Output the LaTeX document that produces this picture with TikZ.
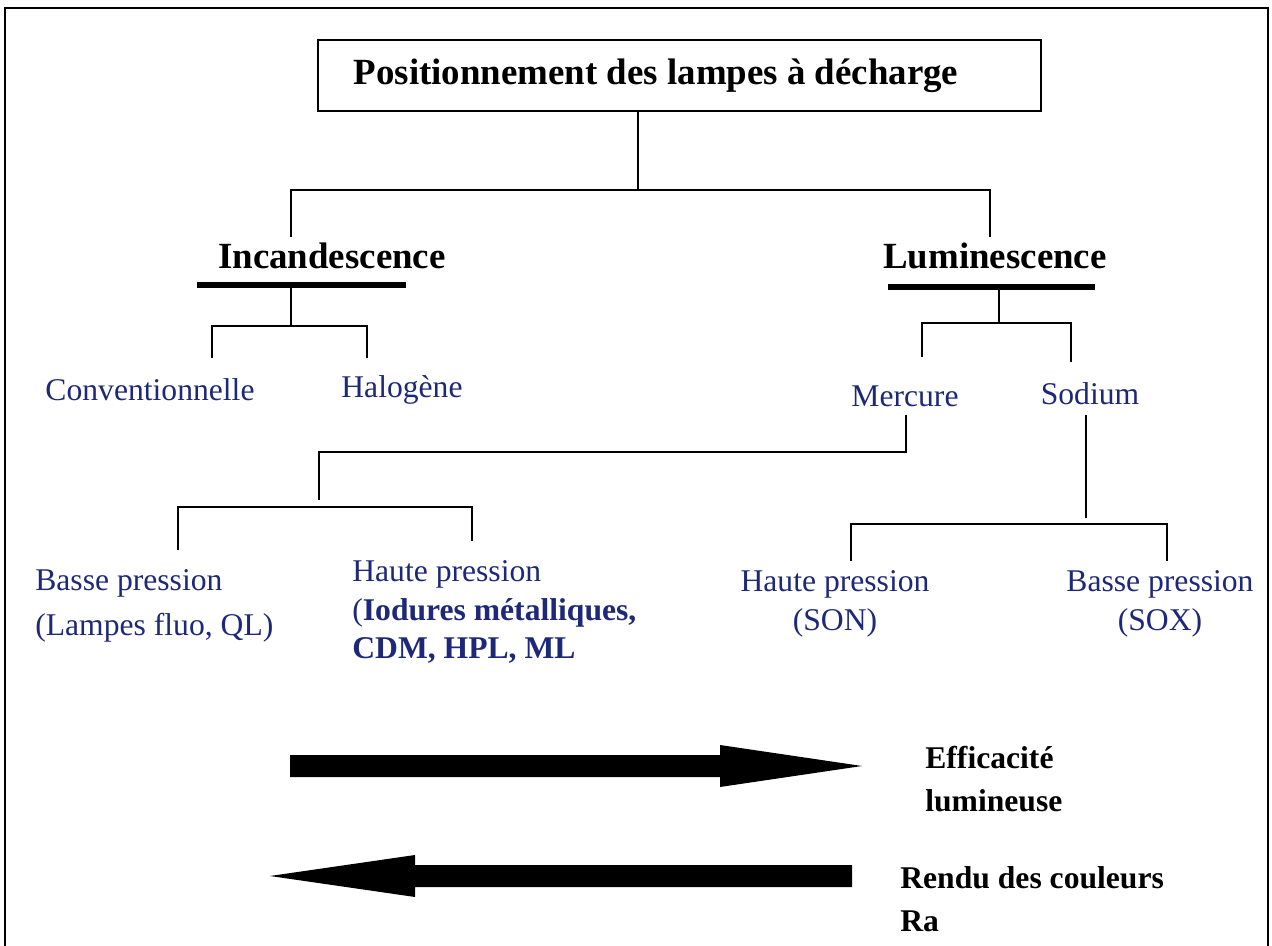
\documentclass[tikz,border=0pt]{standalone}
\usepackage{fontspec}
\setmainfont{Liberation Serif}
\definecolor{lampblue}{RGB}{30,40,120}
\tikzset{
  lien/.style={line width=1.1pt},
  barre/.style={line width=3.4pt},
  titre/.style={font=\fontsize{21}{25}\selectfont\bfseries, inner sep=0pt},
  famille/.style={font=\fontsize{21}{25}\selectfont\bfseries, inner sep=0pt},
  sorte/.style={font=\fontsize{18}{22}\selectfont, text=lampblue, inner sep=0pt},
  legende/.style={font=\fontsize{18}{24.4}\selectfont\bfseries, inner sep=0pt, align=left},
  fleche/.style={fill=black},
}
\begin{document}
\begin{tikzpicture}[x=0.02cm, y=-0.02cm]
  \useasboundingbox (0,0) rectangle (1272,946);
  % cadre
  \draw[lien] (5,946) -- (5,8) -- (1268,8) -- (1268,946);

  % titre
  \node[draw, lien, minimum width=14.46cm, minimum height=1.42cm] (titlebox) at (679.5,75.5) {};
  \node[titre] (title) at (656,76) {Positionnement des lampes à décharge};

  % familles
  \node[famille] (incand) at (332,256) {Incandescence};
  \node[famille] (lumin) at (995,256) {Luminescence};
  \draw[barre] (197,285) -- (406,285);
  \draw[barre] (888,287) -- (1095,287);

  % sortes
  \node[sorte] (conv) at (150,390) {Conventionnelle};
  \node[sorte] (halo) at (402,390) {Halogène};
  \node[sorte] (merc) at (905,396) {Mercure};
  \node[sorte] (sod) at (1090,394) {Sodium};
  \node[sorte, align=left, anchor=west, font=\fontsize{18}{26}\selectfont] (bpfluo) at (35,606)
    {Basse pression\\(Lampes fluo, QL)};
  \node[sorte, align=left, anchor=west] (hpiod) at (352,612)
    {Haute pression\\(\textbf{Iodures métalliques,}\\\textbf{CDM, HPL, ML}};
  \node[sorte, align=center] (hpson) at (835,604) {Haute pression\\(SON)};
  \node[sorte, align=center] (bpsox) at (1160,604) {Basse pression\\(SOX)};

  % jonctions
  \coordinate (jtop) at (638,190);
  \coordinate (jinc) at (291,326);
  \coordinate (jlum) at (999,323);
  \coordinate (jmerc) at (319,452);
  \coordinate (jbas) at (319,507);
  \coordinate (jsod) at (1086,524);

  % liens
  \draw[lien] (titlebox.south -| jtop) -- (jtop);
  \draw[lien] (291,237) |- (jtop) -| (990,237);
  \draw[lien] (jinc |- 0,285) -- (jinc);
  \draw[lien] (212,358) |- (jinc) -| (367,358);
  \draw[lien] (jlum |- 0,287) -- (jlum);
  \draw[lien] (922,357) |- (jlum) -| (1071,362);
  \draw[lien] (906,415) |- (jmerc) -- (319,500);
  \draw[lien] (178,550) |- (jbas) -| (472,541);
  \draw[lien] (1086,415) -- (1086,518);
  \draw[lien] (851,561) |- (jsod) -| (1167,561);

  % fleches
  \fill[fleche] (290,755) -- (720,755) -- (720,745) -- (862,766) -- (720,787) -- (720,777) -- (290,777) -- cycle;
  \fill[fleche] (852,865) -- (415,865) -- (415,855) -- (270,876) -- (415,897) -- (415,887) -- (852,887) -- cycle;
  \node[legende, anchor=west] (eff) at (925,779) {Efficacité\\lumineuse};
  \node[legende, anchor=west] (rendu) at (900,899) {Rendu des couleurs\\Ra};
\end{tikzpicture}
\end{document}
